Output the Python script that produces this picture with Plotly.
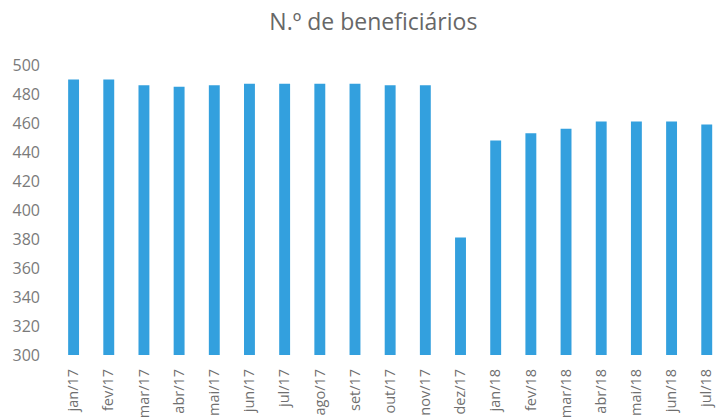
import plotly.graph_objects as go

months = ["jan/17", "fev/17", "mar/17", "abr/17", "mai/17", "jun/17", "jul/17", "ago/17",
          "set/17", "out/17", "nov/17", "dez/17", "jan/18", "fev/18", "mar/18", "abr/18",
          "mai/18", "jun/18", "jul/18"]
beneficiarios = [490, 490, 486, 485, 486, 487, 487, 487, 487, 486, 486, 381,
                 448, 453, 456, 461, 461, 461, 459]
y_ticks = [300, 320, 340, 360, 380, 400, 420, 440, 460, 480, 500]

fig = go.Figure(go.Bar(x=months, y=beneficiarios, marker_color="#33a0de",
                       marker_line_width=0))

fig.update_layout(
    width=718, height=419,
    margin=dict(l=56, r=0, t=65, b=64),
    paper_bgcolor="white", plot_bgcolor="white",
    bargap=0.69,
    showlegend=False,
    title=dict(text="N.º de beneficiários", x=0.52, xanchor="center", y=0.948, yanchor="middle",
               font=dict(family="Open Sans", size=23, color="#676767")),
    font=dict(family="Open Sans", color="#6a6a6a"),
)
fig.update_xaxes(range=[-0.5, 18.32], tickangle=-90, showgrid=False, showline=False,
                 ticks="", automargin=False, ticklabelstandoff=10,
                 tickfont=dict(size=14.5, color="#6f6f6f"))
fig.update_yaxes(range=[300, 500], tickvals=y_ticks, showgrid=False, zeroline=False,
                 showline=False, ticks="", automargin=False, ticklabelstandoff=15,
                 tickfont=dict(size=16, color="#7a7a7a"))

fig.write_html("out.html", config={"displayModeBar": False},
               post_script="document.body.style.margin='0';document.body.style.overflow='hidden';")
